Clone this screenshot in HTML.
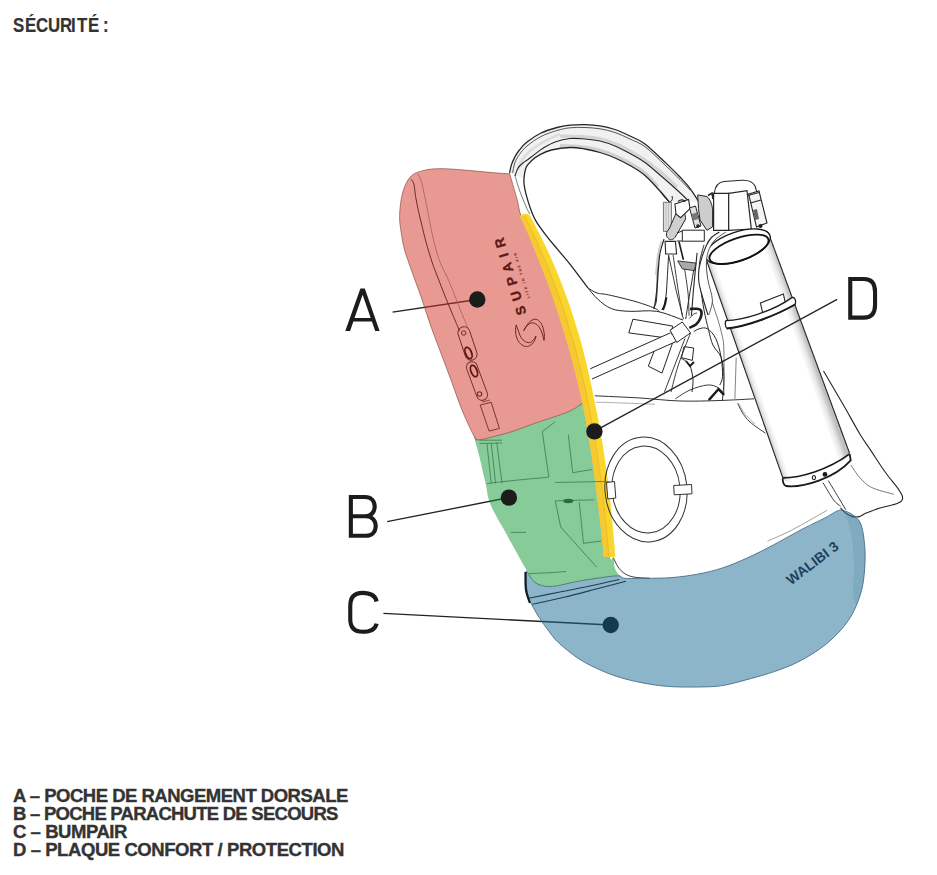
<!DOCTYPE html>
<html><head><meta charset="utf-8">
<style>
html,body{margin:0;padding:0;background:#fff;}
body{width:937px;height:875px;position:relative;overflow:hidden;font-family:"Liberation Sans",sans-serif;color:#333;}
.h{position:absolute;left:0;top:14.84px;font-weight:bold;font-size:19.8px;line-height:20px;white-space:nowrap;-webkit-text-stroke:0.2px #333;}
.h span{position:absolute;top:0;transform:scaleX(0.85);transform-origin:0 0;}
.list{position:absolute;left:13px;top:787px;font-weight:bold;font-size:18.5px;line-height:18px;white-space:nowrap;-webkit-text-stroke:0.35px #333;}
.list div{height:18px;}
svg{position:absolute;left:0;top:0;}
</style></head><body>
<div class="h"><span style="left:12.87px">S</span><span style="left:25.06px">É</span><span style="left:36.40px">C</span><span style="left:48.25px">U</span><span style="left:60.36px">R</span><span style="left:71.16px">I</span><span style="left:76.62px">T</span><span style="left:87.86px">É</span><span style="left:102.72px">:</span></div>
<svg width="937" height="875" viewBox="0 0 937 875">
<path d="M509.6,173.0 C509.9,171.7 510.5,167.6 511.4,164.9 C512.3,162.2 513.6,159.4 514.9,156.9 C516.2,154.4 517.4,152.5 519.4,150.0 C521.4,147.5 523.4,144.8 527.0,142.0 C530.6,139.2 536.0,135.4 541.0,133.0 C546.0,130.6 552.2,128.8 557.0,127.5 C561.8,126.2 565.3,125.7 570.0,125.2 C574.7,124.7 580.0,124.5 585.0,124.6 C590.0,124.7 595.0,125.0 600.0,125.8 C605.0,126.6 610.0,127.8 615.0,129.5 C620.0,131.2 625.0,133.6 630.0,136.0 C635.0,138.4 639.0,139.4 645.0,143.9 C651.0,148.4 659.9,157.4 665.7,162.9 C671.5,168.4 676.2,173.0 680.0,177.0 C683.8,181.0 685.5,182.6 688.6,186.7 C691.8,190.8 697.2,199.2 698.9,201.7 L669,201.5 C667.5,199.8 664.0,195.3 660.0,191.0 C656.0,186.7 650.0,179.8 645.0,175.5 C640.0,171.2 635.0,168.4 630.0,165.5 C625.0,162.6 620.0,160.2 615.0,158.0 C610.0,155.8 605.0,154.0 600.0,152.5 C595.0,151.0 590.0,149.8 585.0,149.0 C580.0,148.2 575.6,147.3 570.0,147.5 C564.4,147.7 556.4,148.8 551.4,150.0 C546.4,151.2 543.2,152.9 540.0,154.6 C536.8,156.3 534.3,158.2 532.0,160.3 C529.7,162.4 527.6,164.1 526.3,167.1 C525.0,170.1 524.4,176.7 524.0,178.6 Z" fill="#f1f1f1" stroke="none"/>
<path d="M560.0,136.0 C564.2,136.1 578.3,136.3 585.0,136.8 C591.7,137.3 595.0,137.7 600.0,138.8 C605.0,139.9 610.0,141.5 615.0,143.5 C620.0,145.5 625.0,148.2 630.0,151.0 C635.0,153.8 639.7,156.3 645.0,160.0 C650.3,163.7 656.7,168.5 662.0,173.0 C667.3,177.5 674.5,184.7 677.0,187.0" stroke="#d4d4d4" stroke-width="3.2" fill="none"/>
<path d="M560.0,145.5 C564.2,145.8 578.3,146.2 585.0,147.0 C591.7,147.8 595.0,148.8 600.0,150.3 C605.0,151.8 610.0,153.7 615.0,155.8 C620.0,158.0 625.0,160.3 630.0,163.2 C635.0,166.1 640.3,169.0 645.0,173.0 C649.7,177.0 655.8,184.7 658.0,187.0" stroke="#d0d0d0" stroke-width="3.2" fill="none"/>
<path d="M518.0,170.0 C518.7,168.3 520.0,163.2 522.0,160.0 C524.0,156.8 526.2,154.2 530.0,151.0 C533.8,147.8 540.0,143.8 545.0,141.0 C550.0,138.2 557.5,135.2 560.0,134.0" stroke="#dcdcdc" stroke-width="2.5" fill="none"/>
<path d="M509.6,173.0 C509.9,171.7 510.5,167.6 511.4,164.9 C512.3,162.2 513.6,159.4 514.9,156.9 C516.2,154.4 517.4,152.5 519.4,150.0 C521.4,147.5 523.4,144.8 527.0,142.0 C530.6,139.2 536.0,135.4 541.0,133.0 C546.0,130.6 552.2,128.8 557.0,127.5 C561.8,126.2 565.3,125.7 570.0,125.2 C574.7,124.7 580.0,124.5 585.0,124.6 C590.0,124.7 595.0,125.0 600.0,125.8 C605.0,126.6 610.0,127.8 615.0,129.5 C620.0,131.2 625.0,133.6 630.0,136.0 C635.0,138.4 639.0,139.4 645.0,143.9 C651.0,148.4 659.9,157.4 665.7,162.9 C671.5,168.4 676.2,173.0 680.0,177.0 C683.8,181.0 685.5,182.6 688.6,186.7 C691.8,190.8 697.2,199.2 698.9,201.7" stroke="#262626" stroke-width="1.3" fill="none"/>
<path d="M512.6,172.9 C513.0,171.2 513.8,165.7 514.9,162.6 C516.0,159.5 517.4,157.4 519.4,154.6 C521.4,151.8 523.4,149.0 527.0,146.0 C530.6,143.0 536.0,139.1 541.0,136.5 C546.0,133.9 552.2,131.9 557.0,130.5 C561.8,129.1 565.3,128.3 570.0,127.8 C574.7,127.3 580.0,127.3 585.0,127.5 C590.0,127.7 595.0,128.0 600.0,128.8 C605.0,129.6 610.0,130.8 615.0,132.5 C620.0,134.2 625.0,136.6 630.0,139.0 C635.0,141.4 639.2,142.4 645.0,146.7 C650.8,151.0 659.2,159.5 665.0,165.0 C670.8,170.5 675.8,175.3 680.0,179.5 C684.2,183.7 688.3,188.2 690.0,190.0" stroke="#444" stroke-width="0.9" fill="none"/>
<path d="M515.0,176.0 C515.5,174.7 516.7,170.2 518.0,168.0 C519.3,165.8 521.2,164.5 523.0,163.0 C524.8,161.5 526.7,160.4 528.6,159.0 C530.5,157.6 531.8,156.4 534.3,154.6 C536.8,152.8 539.9,150.1 543.4,148.0 C546.9,145.9 550.6,143.6 555.0,142.0 C559.4,140.4 565.0,139.0 570.0,138.5 C575.0,138.0 580.0,138.6 585.0,139.0 C590.0,139.4 595.0,139.8 600.0,141.0 C605.0,142.2 610.0,143.9 615.0,146.0 C620.0,148.1 625.0,150.8 630.0,153.5 C635.0,156.2 640.0,158.9 645.0,162.5 C650.0,166.1 654.6,170.4 660.0,175.0 C665.4,179.6 672.3,185.7 677.1,190.0 C681.9,194.3 686.7,199.2 688.6,201.0" stroke="#262626" stroke-width="1.1" fill="none"/>
<path d="M669.0,201.5 C667.5,199.8 664.0,195.3 660.0,191.0 C656.0,186.7 650.0,179.8 645.0,175.5 C640.0,171.2 635.0,168.4 630.0,165.5 C625.0,162.6 620.0,160.2 615.0,158.0 C610.0,155.8 605.0,154.0 600.0,152.5 C595.0,151.0 590.0,149.8 585.0,149.0 C580.0,148.2 575.6,147.3 570.0,147.5 C564.4,147.7 556.4,148.8 551.4,150.0 C546.4,151.2 543.2,152.9 540.0,154.6 C536.8,156.3 534.3,158.2 532.0,160.3 C529.7,162.4 527.6,164.1 526.3,167.1 C525.0,170.1 524.3,175.2 524.0,178.6 C523.7,182.0 524.0,184.3 524.6,187.7 C525.2,191.1 526.3,195.4 527.4,199.1 C528.5,202.8 529.6,206.4 531.0,210.0 C532.4,213.6 533.3,216.5 535.7,220.6 C538.1,224.7 541.6,229.5 545.3,234.3 C548.9,239.1 553.3,244.2 557.6,249.4 C561.9,254.7 566.3,259.4 571.3,265.8 C576.3,272.2 585.0,284.1 587.8,287.8" stroke="#262626" stroke-width="1.3" fill="none"/>
<path d="M514.9,175.1 C515.6,177.6 517.5,184.7 519.4,190.0 C521.3,195.3 524.6,203.1 526.3,207.1 C528.0,211.1 529.1,212.8 529.7,214.0" stroke="#555" stroke-width="0.8" fill="none"/>
<path d="M587.8,287.8 C589.3,288.7 593.5,291.8 597.0,293.0 C600.5,294.2 602.1,293.4 608.6,294.9 C615.1,296.3 628.5,299.5 636.0,301.7 C643.5,303.9 650.0,306.3 653.9,307.9 C657.8,309.5 658.4,310.7 659.3,311.3" stroke="#262626" stroke-width="1.0" fill="none"/>
<path d="M587.8,287.8 C589.4,289.7 593.7,295.5 597.6,299.0 C601.5,302.5 606.0,306.6 611.3,308.6 C616.6,310.7 621.7,310.9 629.2,311.3 C636.8,311.8 647.6,309.9 656.6,311.3 C665.6,312.8 678.6,318.6 683.0,320.0" stroke="#262626" stroke-width="1.0" fill="none"/>
<path d="M659.3,248.2 C659.0,251.8 658.0,261.5 657.5,270.0 C657.0,278.5 657.2,292.8 656.6,299.0 C656.0,305.2 654.4,305.8 653.9,307.2" stroke="#262626" stroke-width="1.0" fill="none"/>
<path d="M664.0,239.1 C663.3,241.4 661.0,247.8 660.0,252.9 C659.0,258.1 658.8,264.3 658.3,270.0 C657.8,275.7 657.7,281.4 657.1,287.1 C656.5,292.8 655.5,300.7 654.9,304.3 C654.3,307.9 653.9,308.1 653.7,308.9" stroke="#262626" stroke-width="1.2" fill="none"/>
<path d="M661.5,241.0 C660.9,243.3 658.9,249.3 658.0,255.0 C657.1,260.7 656.3,271.7 656.0,275.0" stroke="#cfcfcf" stroke-width="2.0" fill="none"/>
<path d="M668.6,255.1 C668.4,258.5 667.8,269.4 667.4,275.7 C667.0,282.0 666.8,288.1 666.3,292.9 C665.8,297.7 665.4,301.4 664.6,304.3 C663.8,307.2 662.2,309.1 661.7,310.0" stroke="#262626" stroke-width="1.0" fill="none"/>
<path d="M666.3,297.4 C666.1,298.5 665.6,301.9 665.0,304.0 C664.4,306.1 663.2,309.0 662.9,310.0" stroke="#1a1a1a" stroke-width="2.2" fill="none"/>
<path d="M668.6,255.1 L676.0,290.0 L683.4,319.1" stroke="#262626" stroke-width="0.9" fill="none"/>
<path d="M673.1,255.1 C673.9,260.4 676.2,277.0 677.7,287.1 C679.2,297.2 681.5,310.9 682.3,315.7" stroke="#262626" stroke-width="0.9" fill="none"/>
<path d="M678.9,241.4 L683.4,259.7" stroke="#1a1a1a" stroke-width="1.6" fill="none"/>
<path d="M684.6,268.9 C685.2,272.9 687.2,285.1 688.0,292.9 C688.8,300.7 688.9,311.9 689.1,315.7" stroke="#262626" stroke-width="0.9" fill="none"/>
<path d="M693.7,270.0 C692.8,275.7 689.3,296.1 688.0,304.3 C686.7,312.5 686.1,316.6 685.7,319.1" stroke="#262626" stroke-width="1.0" fill="none"/>
<path d="M697.1,252.9 C696.5,258.6 694.7,276.6 693.7,287.1 C692.8,297.6 691.8,310.9 691.4,315.7" stroke="#262626" stroke-width="1.1" fill="none"/>
<path d="M704.0,244.9 C703.2,248.1 700.0,257.3 699.4,264.3 C698.8,271.3 699.8,279.5 700.6,287.1 C701.4,294.7 702.7,302.9 704.0,310.0 C705.3,317.1 707.1,324.2 708.6,330.0 C710.1,335.8 710.8,340.4 712.9,345.0 C715.0,349.6 719.4,352.3 721.2,357.6 C723.0,362.9 723.7,369.7 723.9,376.8 C724.1,383.9 722.7,396.2 722.5,400.1" stroke="#262626" stroke-width="1.0" fill="none"/>
<path d="M710.9,244.9 C710.1,248.1 706.7,257.3 706.3,264.3 C705.9,271.3 707.5,280.3 708.6,287.1 C709.7,293.9 711.5,299.5 713.1,305.0 C714.7,310.5 716.5,315.0 718.0,320.0 C719.5,325.0 721.0,330.0 722.0,335.0 C723.0,340.0 723.6,339.8 723.9,350.0 C724.2,360.2 723.9,388.3 723.9,396.0" stroke="#555" stroke-width="0.8" fill="none"/>
<path d="M736.2,357.6 L734.9,398.8" stroke="#666" stroke-width="0.8" fill="none"/>
<path d="M665.1,241.4 L675.4,241.4 L676.6,254.0 L665.7,254.0 Z" stroke="#262626" stroke-width="1.1" fill="#fff"/>
<path d="M677.7,260.9 L696.0,263.1 L694.3,270.6 L682.3,268.9 Z" stroke="#262626" stroke-width="0.9" fill="#a9a9a9"/>
<path d="M690.0,309.0 C691.2,309.0 695.1,308.5 697.0,308.8 C698.9,309.1 700.6,309.5 701.2,311.0 C701.8,312.5 701.4,315.8 700.5,318.0 C699.6,320.2 697.9,322.9 696.0,324.5 C694.1,326.1 690.4,327.2 689.3,327.8" stroke="#1f1f1f" stroke-width="2.6" fill="none"/>
<path d="M689.3,318.4 C690.0,317.7 692.3,315.1 693.6,314.2 C694.9,313.3 696.4,313.2 697.0,313.0" stroke="#262626" stroke-width="1.0" fill="none"/>
<path d="M693.7,331.6 C694.8,331.1 697.7,329.0 700.0,328.5 C702.3,328.0 704.8,327.2 707.4,328.8 C710.0,330.4 713.4,333.6 715.7,338.4 C718.0,343.2 720.1,351.2 721.2,357.6 C722.3,364.0 722.7,372.2 722.5,376.8 C722.3,381.4 720.2,383.6 719.8,385.0" stroke="#262626" stroke-width="1.0" fill="none"/>
<path d="M684.1,346.6 L693.7,348.0 L692.3,360.4 L681.4,357.6 Z" stroke="#262626" stroke-width="1.0" fill="#fff"/>
<path d="M681.0,358.0 C682.2,358.9 686.5,361.3 688.2,363.1 C689.9,364.9 690.2,365.8 691.0,368.6 C691.8,371.4 692.8,376.1 693.0,380.0 C693.2,383.9 692.2,390.0 692.0,392.0" stroke="#262626" stroke-width="1.0" fill="none"/>
<path d="M686.0,361.0 L690.0,366.0 L694.0,362.0" stroke="#1f1f1f" stroke-width="2.0" fill="none"/>
<path d="M675.4,398.8 C677.8,397.3 684.7,392.3 690.0,390.0 C695.3,387.7 702.7,385.4 707.4,385.0 C712.1,384.6 715.6,386.2 718.4,387.8 C721.1,389.4 723.0,393.6 723.9,394.7" stroke="#262626" stroke-width="0.9" fill="none"/>
<path d="M708.8,400.1 L718.4,389.2 L723.9,394.7" stroke="#1a1a1a" stroke-width="2.4" fill="none"/>
<path d="M594.8,395.8 C602.3,396.2 625.8,397.1 640.0,398.0 C654.2,398.9 666.7,400.6 680.0,401.0 C693.3,401.4 707.6,400.9 720.0,400.5 C732.4,400.1 748.4,399.1 754.1,398.8" stroke="#333" stroke-width="1.0" fill="none"/>
<path d="M595.7,402.2 C600.2,402.3 613.1,402.6 623.0,403.0 C632.9,403.4 649.7,404.1 655.0,404.3" stroke="#999" stroke-width="0.8" fill="none"/>
<path d="M632.9,319.2 L672.7,326.1 L670.0,338.4 L628.8,332.9 Z" stroke="#262626" stroke-width="1.0" fill="#fff"/>
<path d="M656.5,345.0 L648.3,366.2 L662.0,373.1 L672.5,343.0 Z" stroke="#262626" stroke-width="1.0" fill="#fff"/>
<path d="M590.2,368.8 L670.0,333.0 L676.8,341.2 L592.0,379.0 Z" stroke="#fff" stroke-width="0.01" fill="#fff"/>
<path d="M590.2,368.8 L670.0,333.0" stroke="#262626" stroke-width="1.0" fill="none"/>
<path d="M592.0,379.0 L676.8,341.2" stroke="#262626" stroke-width="1.0" fill="none"/>
<path d="M670.0,330.2 L682.3,322.0 L690.5,332.9 L676.8,342.5 Z" stroke="#262626" stroke-width="1.0" fill="#fff"/>
<path d="M685.0,338.4 L664.5,391.9" stroke="#262626" stroke-width="0.9" fill="none"/>
<path d="M690.5,333.0 C688.4,338.5 681.2,356.2 678.0,366.0 C674.8,375.8 672.2,387.7 671.0,392.0" stroke="#262626" stroke-width="0.9" fill="none"/>
<path d="M823.5,371.0 C824.4,372.5 825.4,374.2 828.8,380.0 C832.2,385.8 838.8,397.0 844.0,406.0 C849.2,415.0 855.4,426.6 860.0,434.2 C864.6,441.8 867.2,445.1 871.4,451.4 C875.6,457.7 880.8,466.0 885.1,472.0 C889.4,478.0 894.2,483.4 897.1,487.4 C900.0,491.4 901.6,493.7 902.3,496.0 C903.0,498.3 902.8,499.7 901.4,501.1 C900.0,502.5 897.3,503.5 893.7,504.6 C890.1,505.8 884.6,506.6 880.0,508.0 C875.4,509.4 869.7,511.7 866.3,513.1 C862.9,514.5 861.7,516.0 859.4,516.6 C857.1,517.2 854.9,517.2 852.6,516.6 C850.3,516.0 847.7,514.5 845.7,513.1 C843.7,511.7 841.5,508.9 840.6,508.0" stroke="#262626" stroke-width="1.1" fill="none"/>
<path d="M850.9,465.1 C852.3,467.1 856.0,473.4 859.4,477.1 C862.8,480.8 865.7,484.5 871.4,487.4 C877.1,490.3 890.0,493.1 893.7,494.3" stroke="#555" stroke-width="0.8" fill="none"/>
<path d="M823.0,482.7 C824.8,485.6 830.7,496.1 833.6,500.0 C836.5,503.9 839.4,505.2 840.6,506.3" stroke="#262626" stroke-width="0.9" fill="none"/>
<path d="M828.3,480.6 C830.2,483.8 837.1,495.1 840.0,500.0 C842.9,504.9 844.8,508.1 845.7,509.7" stroke="#262626" stroke-width="0.9" fill="none"/>
<path d="M737.7,403.0 C738.4,404.5 740.0,408.8 742.0,412.0 C744.0,415.2 746.1,418.5 750.0,422.0 C753.9,425.5 762.8,431.3 765.4,433.2" stroke="#262626" stroke-width="0.9" fill="none"/>
<path d="M739.0,404.0 C740.0,405.7 742.3,410.7 745.0,414.0 C747.7,417.3 753.3,422.3 755.0,424.0" stroke="#888" stroke-width="0.7" fill="none"/>
<path d="M767.5,541.2 C771.2,539.5 782.9,534.5 790.0,531.0 C797.1,527.5 803.8,523.5 810.0,520.0 C816.2,516.5 824.2,511.9 827.0,510.3" stroke="#777" stroke-width="0.7" fill="none"/>
<path d="M613.4,557.7 C614.2,559.2 616.1,564.2 618.0,566.9 C619.9,569.6 622.2,572.0 624.9,573.7 C627.6,575.4 629.8,576.3 634.0,577.1 C638.2,577.9 647.3,578.1 650.0,578.3" stroke="#262626" stroke-width="0.9" fill="none"/>
<path d="M714.3,193.3 C715,186 718,182.3 724,181.5 L741.7,180.3 C749,180 753,182 755,186 L756.8,191.9" stroke="#262626" stroke-width="1.1" fill="none"/>
<path d="M713.6,193.3 L728.7,193.3 L728.7,230.4 L713.6,230.4 Z" fill="#fff" stroke="#262626" stroke-width="1.2"/>
<path d="M728.7,193.3 L747,190.6 L751.3,229 L728.7,230.4 Z" fill="#fff" stroke="#262626" stroke-width="1.2"/>
<path d="M748.6,194 L759,191 L767,223 L756.5,227 Z" fill="#f4f4f4" stroke="#262626" stroke-width="1.1"/>
<path d="M748,195.5 L759,192.5 M750.5,203 L761,200" stroke="#262626" stroke-width="1.2" fill="none"/>
<path d="M753,210 L757,209 L759,219 L755,220 Z" fill="#666"/>
<circle cx="760.5" cy="226" r="2" fill="#222"/>
<path d="M663.4,202.3 L671.4,202.3 L671.4,231.4 L663.4,231.4 Z" fill="#dedede" stroke="#555" stroke-width="0.8"/>
<path d="M666,203 V231 M668.5,203 V231" stroke="#bbb" stroke-width="0.8"/>
<path d="M660,191 C664,197 668,201.5 670,202 C672,201 673,199 672,196" stroke="#262626" stroke-width="1" fill="none"/>
<path d="M668,238.3 C665.5,236 666,232 669.1,229 L677.1,211 C679,208.5 683,209.5 684.5,213 C686,217 685.5,219 685.1,220 L675,237.5 C673,240 670,240.5 668,238.3 Z" fill="#cfcfcf" stroke="#262626" stroke-width="1"/>
<path d="M674.9,204 L688.6,199.4 L690,208.6 L680.6,217.7 L676,214 Z" fill="#fff" stroke="#262626" stroke-width="1.1"/>
<path d="M678,201.5 C681,199 684,199.5 685,202" stroke="#262626" stroke-width="1.4" fill="none"/>
<path d="M697.7,194.9 L706.9,196.5 C710,199 712.6,205 712.6,210.9 L712.6,226.9 L706.9,230.3 L700,220 L698.5,208.6 Z" fill="#cdcdcd" stroke="#262626" stroke-width="1"/>
<path d="M708,195.5 L712,193 L713,199" stroke="#262626" stroke-width="1.6" fill="none"/>
<path d="M689.5,208 L695.5,206 L701,226 L695,228 Z" fill="#e0e0e0" stroke="#262626" stroke-width="1"/>
<path d="M691.5,214 L697,212.5 L698.5,219 L693,220.5 Z" fill="#7a7a7a"/>
<circle cx="698" cy="226" r="1.8" fill="#222"/>
<path d="M682.3,230.2 L704.3,230.2 L704.3,241.2 L682.3,241.2 Z" fill="#fff" stroke="#262626" stroke-width="1"/>
<path d="M677,233 L682.3,231 M676.6,241 L682.3,241" stroke="#262626" stroke-width="1" fill="none"/>
<defs><linearGradient id="cg" gradientUnits="userSpaceOnUse" x1="704.7" y1="255" x2="768.4" y2="232.7"><stop offset="0" stop-color="#c4c4c4"/><stop offset="0.05" stop-color="#ececec"/><stop offset="0.11" stop-color="#fff"/><stop offset="0.86" stop-color="#fff"/><stop offset="0.94" stop-color="#e6e6e6"/><stop offset="1" stop-color="#c0c0c0"/></linearGradient></defs>
<path d="M704.7,255 L783,478.4 C790,490 840,470 849.6,453.3 L770.5,238.6 Z" fill="url(#cg)"/>
<path d="M704.7,255 L783,478.4" stroke="#262626" stroke-width="1.1" fill="none"/>
<path d="M770.5,238.6 L849.6,453.3" stroke="#262626" stroke-width="1.1" fill="none"/>
<ellipse cx="737.8" cy="246.5" rx="34" ry="14.5" transform="rotate(-19 737.8 246.5)" fill="#fff" stroke="#1a1a1a" stroke-width="1.4"/>
<ellipse cx="739" cy="249.3" rx="31" ry="11.3" transform="rotate(-19 739 249.3)" fill="none" stroke="#111" stroke-width="1.9"/>
<path d="M719.3,232.0 C717.9,233.0 713.1,235.8 711.0,238.0 C708.9,240.2 707.9,242.2 706.4,245.4 C704.9,248.6 703.1,253.4 701.9,257.4 C700.7,261.4 699.5,265.1 699.0,269.3 C698.5,273.5 698.3,277.7 699.0,282.8 C699.7,287.9 701.9,294.6 703.4,300.0 C704.9,305.4 707.2,312.5 708.0,315.0 L708.8,315 C709.4,312.5 712.5,305.9 712.4,300.0 C712.2,294.1 708.9,286.2 707.9,279.8 C706.9,273.4 706.1,267.1 706.4,261.9 C706.6,256.7 707.8,252.2 709.4,248.4 C711.0,244.6 713.2,241.7 716.0,239.0 C718.8,236.3 724.2,233.2 725.9,232.0 Z" fill="#fff" stroke="none"/>
<path d="M719.3,232.0 C717.9,233.0 713.1,235.8 711.0,238.0 C708.9,240.2 707.9,242.2 706.4,245.4 C704.9,248.6 703.1,253.4 701.9,257.4 C700.7,261.4 699.5,265.1 699.0,269.3 C698.5,273.5 698.3,277.7 699.0,282.8 C699.7,287.9 701.9,294.6 703.4,300.0 C704.9,305.4 707.2,312.5 708.0,315.0" stroke="#262626" stroke-width="1.1" fill="none"/>
<path d="M725.9,232.0 C724.2,233.2 718.8,236.3 716.0,239.0 C713.2,241.7 711.0,244.6 709.4,248.4 C707.8,252.2 706.6,256.7 706.4,261.9 C706.1,267.1 706.9,273.4 707.9,279.8 C708.9,286.2 712.2,294.1 712.4,300.0 C712.5,305.9 709.4,312.5 708.8,315.0" stroke="#444" stroke-width="0.9" fill="none"/>
<path d="M760.4,303 L783.3,293.9 L785.8,304.5 L763.2,315 Z" fill="#fff" stroke="#262626" stroke-width="1.1"/>
<path d="M726,320.6 C742,320 772,312 791.8,297.6 C794,297 795.5,299 795.6,301.5 C795.6,303 795.3,304 795,304.5 C775,316 745,327 727,328.5 C725,327 725,322 726,320.6 Z" fill="#fff" stroke="#1e1e1e" stroke-width="1.3"/>
<path d="M727,328.5 C745,327 775,316 795,304.5" stroke="#1a1a1a" stroke-width="1.9" fill="none"/>
<path d="M782.4,477.9 C800,478 828,470 849.6,453.9" stroke="#1a1a1a" stroke-width="1.7" fill="none"/>
<path d="M782.6,478.5 C782.8,482.5 783.5,485 786,486 C803,488 835,478 850.7,460.3 L849.6,453.9" stroke="#1a1a1a" stroke-width="1.8" fill="none"/>
<ellipse cx="813.9" cy="477.6" rx="1.6" ry="2.1" fill="#fff" stroke="#1a1a1a" stroke-width="1.1"/>
<circle cx="825" cy="474.4" r="2.4" fill="#1a1a1a"/>
<g stroke="#222" stroke-width="1.3" fill="none"><path d="M392.6,312.2 L477.3,299.5"/><path d="M387.1,521.7 L509,497.5"/><path d="M383.4,613.4 L610.7,625"/><path d="M837.1,299.4 L594.6,431.1"/></g>
<path d="M526.0,573.0 C525.9,576.7 526.6,589.8 527.5,595.0 C528.4,600.2 529.5,600.4 531.5,604.2 C533.5,608.0 536.3,613.1 539.2,617.6 C542.1,622.1 545.6,626.9 548.8,631.1 C552.0,635.3 553.6,638.1 558.4,642.6 C563.2,647.1 571.2,653.7 577.6,658.0 C584.0,662.3 590.4,665.5 596.8,668.5 C603.2,671.5 609.6,674.1 616.0,676.2 C622.4,678.4 628.9,680.0 635.3,681.4 C641.7,682.8 648.1,684.0 654.5,684.9 C660.9,685.8 666.1,686.4 673.7,686.8 C681.3,687.1 691.8,687.2 700.0,687.0 C708.2,686.8 714.4,686.9 723.0,685.5 C731.6,684.1 742.9,680.7 751.4,678.4 C759.9,676.1 766.7,674.3 774.3,671.6 C781.9,668.9 789.6,666.2 797.2,662.4 C804.8,658.6 813.2,653.7 820.1,648.7 C827.0,643.8 833.1,638.4 838.4,632.7 C843.7,627.0 848.3,621.3 852.1,614.4 C855.9,607.5 859.2,599.1 861.3,591.5 C863.4,583.9 864.1,576.2 864.7,568.6 C865.3,561.0 865.3,553.0 864.7,545.8 C864.1,538.6 863.0,530.2 861.3,525.2 C859.6,520.2 857.1,518.4 854.4,516.0 C851.7,513.6 847.7,511.9 845.0,511.0 C842.3,510.1 841.8,509.4 838.4,510.5 C835.0,511.6 831.4,514.5 824.9,517.9 C818.4,521.3 807.8,526.2 799.3,530.7 C790.8,535.2 782.2,540.3 773.7,544.8 C765.2,549.3 756.5,553.8 748.0,557.6 C739.5,561.5 731.0,565.1 722.5,567.9 C714.0,570.7 705.3,572.7 696.8,574.3 C688.2,575.9 679.7,576.9 671.2,577.6 C662.7,578.3 653.3,578.2 645.6,578.3 C637.9,578.4 629.6,578.7 624.9,578.3 C620.2,577.9 622.0,575.8 617.6,575.8 C613.2,575.8 605.3,577.1 598.8,578.0 C592.2,578.9 586.0,579.8 578.3,581.2 C570.6,582.6 559.2,585.8 552.7,586.4 C546.2,587.0 542.4,585.8 539.0,584.6 C535.6,583.5 534.0,581.4 532.2,579.5 C530.4,577.6 529.0,574.1 528.0,573.0 C527.0,571.9 526.1,569.3 526.0,573.0 Z" fill="rgb(27,107,147)" fill-opacity="0.5" stroke="#3d6480" stroke-width="0.8"/>
<path d="M846.0,513.0 C847.2,512.2 852.5,515.0 855.0,517.0 C857.5,519.0 859.7,520.4 861.3,525.2 C862.9,530.0 864.1,538.6 864.7,545.8 C865.3,553.0 865.3,561.0 864.7,568.6 C864.1,576.2 862.8,585.6 861.3,591.5 C859.8,597.4 857.4,604.2 856.0,604.0 C854.6,603.8 853.3,596.5 853.0,590.0 C852.7,583.5 854.2,573.3 854.0,565.0 C853.8,556.7 853.0,547.2 852.0,540.0 C851.0,532.8 849.0,526.5 848.0,522.0 C847.0,517.5 844.8,513.8 846.0,513.0 Z" fill="#2a5878" fill-opacity="0.12"/>
<path d="M528.8,598.3 C534.0,597.2 549.8,594.0 560.0,592.0 C570.2,590.0 580.1,588.1 590.0,586.0 C599.9,583.9 614.4,580.6 619.3,579.5" fill="none" stroke="#1f3f55" stroke-width="1.1"/>
<path d="M532.2,604.3 C537.7,603.1 553.7,599.7 565.0,597.0 C576.3,594.3 589.8,590.6 600.0,588.0 C610.2,585.4 621.7,582.3 626.0,581.2" fill="none" stroke="#1f3f55" stroke-width="1.1"/>
<path d="M525.5,572.0 C525.6,575.0 525.2,584.8 526.0,590.0 C526.8,595.2 529.3,600.8 530.0,603.0" fill="none" stroke="#0f1f2a" stroke-width="2.2"/>
<path d="M474.0,436.0 C473.7,433.1 475.4,439.6 478.0,439.8 C480.6,440.1 484.2,438.9 489.9,437.5 C495.6,436.1 504.8,433.9 512.3,431.5 C519.8,429.1 527.2,425.9 534.7,423.3 C542.2,420.7 550.9,418.1 557.1,415.9 C563.3,413.7 567.4,412.4 572.1,409.9 C576.8,407.4 582.2,402.8 585.5,400.8 C588.8,398.8 590.2,391.5 592.0,398.0 C593.8,404.5 594.7,426.2 596.0,440.0 C597.3,453.8 598.3,467.7 600.0,481.0 C601.7,494.3 604.3,507.3 606.0,520.0 C607.7,532.7 608.8,550.7 610.0,557.0 C611.2,563.3 612.6,556.1 613.4,557.7 C614.2,559.4 613.8,564.2 614.6,566.9 C615.4,569.6 616.3,571.8 618.0,573.7 C619.7,575.6 625.0,577.9 624.9,578.3 C624.8,578.6 622.0,575.8 617.6,575.8 C613.2,575.8 605.3,577.1 598.8,578.0 C592.2,578.9 586.0,579.8 578.3,581.2 C570.6,582.6 559.2,585.8 552.7,586.4 C546.2,587.0 542.4,585.8 539.0,584.6 C535.6,583.5 534.2,581.8 532.2,579.5 C530.2,577.2 529.0,574.4 527.0,571.0 C525.0,567.6 522.6,563.3 520.2,559.0 C517.8,554.7 515.3,550.2 512.5,545.1 C509.7,540.0 506.4,534.1 503.4,528.6 C500.3,523.1 496.6,517.1 494.2,512.2 C491.8,507.3 490.1,504.0 488.7,499.4 C487.3,494.8 486.8,488.4 486.0,484.8 C485.2,481.2 485.3,482.1 484.2,477.5 C483.1,472.9 481.3,464.3 479.6,457.4 C477.9,450.5 474.3,438.9 474.0,436.0 Z" fill="rgb(15,151,51)" fill-opacity="0.5"/>
<path d="M412.9,174.6 C415.0,173.0 417.2,172.3 420.2,171.4 C423.2,170.5 427.0,169.6 431.1,169.1 C435.2,168.6 440.2,168.6 444.8,168.7 C449.4,168.8 453.6,169.2 458.6,169.6 C463.6,170.0 469.4,170.5 475.0,171.0 C480.6,171.5 486.4,172.1 492.0,172.6 C497.6,173.1 505.6,173.6 508.5,173.8 C511.4,174.0 509.3,173.6 509.6,174.0 C509.9,174.4 509.6,173.7 510.3,176.0 C511.0,178.3 512.5,183.5 513.7,187.7 C514.9,191.9 516.3,196.3 517.5,201.0 C518.7,205.7 518.8,210.0 521.0,216.0 C523.2,222.0 528.0,230.2 531.0,237.0 C534.0,243.8 536.3,250.0 539.1,257.0 C541.9,264.0 545.0,271.8 547.7,279.0 C550.4,286.2 552.9,293.2 555.2,300.0 C557.6,306.8 559.7,313.3 561.8,320.0 C563.9,326.7 566.2,334.2 567.9,340.0 C569.6,345.8 570.8,350.0 572.2,355.0 C573.6,360.0 574.9,365.0 576.2,370.0 C577.5,375.0 578.7,380.0 579.9,385.0 C581.1,390.0 582.4,397.4 583.3,400.0 C584.2,402.6 587.4,399.2 585.5,400.8 C583.6,402.4 576.8,407.4 572.1,409.9 C567.4,412.4 563.3,413.7 557.1,415.9 C550.9,418.1 542.2,420.7 534.7,423.3 C527.2,425.9 519.8,429.1 512.3,431.5 C504.8,433.9 495.6,436.1 489.9,437.5 C484.2,438.9 480.6,440.1 478.0,439.8 C475.4,439.6 476.7,440.9 474.0,436.0 C471.3,431.1 465.6,418.8 462.0,410.1 C458.4,401.4 455.8,392.9 452.4,383.7 C449.0,374.5 445.2,364.5 441.6,354.9 C438.0,345.3 434.2,335.7 430.8,326.1 C427.4,316.5 424.4,306.4 421.2,297.2 C418.0,288.0 414.4,278.8 411.6,270.8 C408.8,262.8 406.2,256.0 404.4,249.2 C402.6,242.4 401.6,235.2 400.8,230.0 C400.0,224.8 399.7,222.1 399.6,218.0 C399.5,213.9 399.8,210.0 400.3,205.7 C400.8,201.4 401.6,196.1 402.8,192.0 C404.0,187.9 405.7,183.9 407.4,181.0 C409.1,178.1 410.8,176.2 412.9,174.6 Z" fill="rgb(209,53,37)" fill-opacity="0.5" stroke="#7a3a35" stroke-width="0.6"/>
<path d="M520.1,216.0 C521.7,219.5 526.6,230.2 529.5,237.0 C532.4,243.8 534.8,250.0 537.6,257.0 C540.4,264.0 543.5,271.8 546.2,279.0 C548.9,286.2 551.4,293.2 553.7,300.0 C556.1,306.8 558.2,313.3 560.3,320.0 C562.4,326.7 564.7,334.2 566.4,340.0 C568.1,345.8 569.3,350.0 570.7,355.0 C572.1,360.0 573.4,365.0 574.7,370.0 C576.0,375.0 577.2,380.0 578.4,385.0 C579.6,390.0 580.6,394.2 581.8,400.0 C583.0,405.8 584.5,413.3 585.7,420.0 C586.9,426.7 588.0,433.3 589.1,440.0 C590.2,446.7 591.2,453.3 592.2,460.0 C593.2,466.7 594.1,473.3 595.0,480.0 C595.9,486.7 596.8,493.3 597.6,500.0 C598.4,506.7 599.2,513.3 600.0,520.0 C600.8,526.7 601.6,533.8 602.2,540.0 C602.9,546.2 603.6,554.2 603.9,557.0 L615.3,557 C615.1,554.2 614.4,546.2 613.9,540.0 C613.4,533.8 612.7,526.7 612.1,520.0 C611.5,513.3 610.8,506.7 610.1,500.0 C609.4,493.3 608.6,486.7 607.8,480.0 C606.9,473.3 606.0,466.7 605.0,460.0 C604.0,453.3 603.0,446.7 601.9,440.0 C600.8,433.3 599.6,426.7 598.3,420.0 C597.0,413.3 595.5,405.8 594.3,400.0 C593.1,394.2 592.4,390.0 591.3,385.0 C590.2,380.0 589.1,375.0 587.9,370.0 C586.7,365.0 585.5,360.0 584.3,355.0 C583.0,350.0 582.1,345.8 580.4,340.0 C578.7,334.2 576.4,326.7 574.3,320.0 C572.2,313.3 570.1,306.8 567.7,300.0 C565.3,293.2 562.6,286.2 559.8,279.0 C556.9,271.8 553.7,264.0 550.6,257.0 C547.5,250.0 544.4,243.8 541.0,237.0 C537.6,230.2 531.9,219.5 530.1,216.0 C528,213 523,213 520.1,216 Z" fill="#fad52c"/>
<path d="M520.1,216.0 C521.7,219.5 526.6,230.2 529.5,237.0 C532.4,243.8 534.8,250.0 537.6,257.0 C540.4,264.0 543.5,271.8 546.2,279.0 C548.9,286.2 551.4,293.2 553.7,300.0 C556.1,306.8 558.2,313.3 560.3,320.0 C562.4,326.7 564.7,334.2 566.4,340.0 C568.1,345.8 569.3,350.0 570.7,355.0 C572.1,360.0 573.4,365.0 574.7,370.0 C576.0,375.0 577.2,380.0 578.4,385.0 C579.6,390.0 580.6,394.2 581.8,400.0 C583.0,405.8 584.5,413.3 585.7,420.0 C586.9,426.7 588.0,433.3 589.1,440.0 C590.2,446.7 591.2,453.3 592.2,460.0 C593.2,466.7 594.1,473.3 595.0,480.0 C595.9,486.7 596.8,493.3 597.6,500.0 C598.4,506.7 599.2,513.3 600.0,520.0 C600.8,526.7 601.6,533.8 602.2,540.0 C602.9,546.2 603.6,554.2 603.9,557.0 L609.1,557.0 C608.8,554.2 608.1,546.2 607.5,540.0 C607.0,533.8 606.2,526.7 605.5,520.0 C604.8,513.3 604.1,506.7 603.4,500.0 C602.6,493.3 601.8,486.7 600.9,480.0 C600.0,473.3 599.1,466.7 598.1,460.0 C597.1,453.3 596.1,446.7 595.0,440.0 C593.9,433.3 592.7,426.7 591.5,420.0 C590.3,413.3 588.7,405.8 587.5,400.0 C586.4,394.2 585.5,390.0 584.3,385.0 C583.2,380.0 582.0,375.0 580.8,370.0 C579.6,365.0 578.3,360.0 577.0,355.0 C575.7,350.0 574.6,345.8 572.9,340.0 C571.2,334.2 568.9,326.7 566.8,320.0 C564.7,313.3 562.6,306.8 560.2,300.0 C557.8,293.2 555.3,286.2 552.5,279.0 C549.7,271.8 546.6,264.0 543.6,257.0 C540.6,250.0 537.9,243.8 534.8,237.0 C531.6,230.2 526.3,219.5 524.6,216.0 Z" fill="#f6c932"/>
<path d="M524.6,216.0 C526.3,219.5 531.6,230.2 534.8,237.0 C537.9,243.8 540.6,250.0 543.6,257.0 C546.6,264.0 549.7,271.8 552.5,279.0 C555.3,286.2 557.8,293.2 560.2,300.0 C562.6,306.8 564.7,313.3 566.8,320.0 C568.9,326.7 571.2,334.2 572.9,340.0 C574.6,345.8 575.7,350.0 577.0,355.0 C578.3,360.0 579.6,365.0 580.8,370.0 C582.0,375.0 583.2,380.0 584.3,385.0 C585.5,390.0 586.4,394.2 587.5,400.0 C588.7,405.8 590.3,413.3 591.5,420.0 C592.7,426.7 593.9,433.3 595.0,440.0 C596.1,446.7 597.1,453.3 598.1,460.0 C599.1,466.7 600.0,473.3 600.9,480.0 C601.8,486.7 602.6,493.3 603.4,500.0 C604.1,506.7 604.8,513.3 605.5,520.0 C606.2,526.7 607.0,533.8 607.5,540.0 C608.1,546.2 608.8,554.2 609.1,557.0" fill="none" stroke="#e2b52a" stroke-width="0.7"/>
<ellipse cx="646" cy="489.5" rx="41" ry="52.5" transform="rotate(-6 646 489.5)" fill="none" stroke="#333" stroke-width="1"/>
<ellipse cx="646" cy="489.5" rx="34" ry="43.5" transform="rotate(-6 646 489.5)" fill="none" stroke="#333" stroke-width="1"/>
<path d="M606.5,482.5 L614.5,481.5 L615.8,498 L607.8,499 Z" fill="#fff" stroke="#333" stroke-width="1"/>
<path d="M673.7,485.5 L691.5,484.5 L692,493.8 L674.2,494.8 Z" fill="#fff" stroke="#333" stroke-width="1"/>
<path d="M411.0,179.2 C411.5,180.0 413.0,180.9 413.8,183.8 C414.6,186.7 414.9,192.2 415.6,196.6 C416.4,201.0 417.2,205.4 418.3,210.3 C419.4,215.2 420.7,220.5 422.0,225.8 C423.3,231.1 424.3,236.0 426.0,242.0 C427.7,248.0 430.0,256.0 432.0,262.0 C434.0,268.0 435.8,272.3 438.0,278.0 C440.2,283.7 442.6,290.0 445.0,296.0 C447.4,302.0 450.0,308.2 452.4,314.0 C454.8,319.8 458.4,328.1 459.6,330.9" stroke="#6e2a27" stroke-width="1" fill="none"/>
<path d="M417.4,173.7 C418.0,174.8 419.9,177.0 421.0,180.1 C422.1,183.2 422.9,187.7 423.8,192.0 C424.7,196.3 425.5,200.4 426.6,205.7 C427.7,211.0 429.0,217.9 430.2,224.0 C431.4,230.1 432.4,235.7 434.0,242.0 C435.6,248.3 437.7,256.0 440.0,262.0 C442.3,268.0 445.1,272.3 447.6,278.0 C450.1,283.7 452.6,290.0 455.0,296.0 C457.4,302.0 459.8,308.7 462.0,314.0 C464.2,319.3 467.0,325.7 468.0,328.0" stroke="#a05650" stroke-width="0.7" fill="none"/>
<rect x="-6" y="-17.4" width="12" height="34.8" rx="6" transform="translate(467.5,343.5) rotate(-18.4)" fill="none" stroke="#6e2a27" stroke-width="0.9"/>
<rect x="-5.5" y="-20.2" width="11" height="40.4" rx="5.5" transform="translate(477,381) rotate(-20.2)" fill="none" stroke="#6e2a27" stroke-width="0.9"/>
<circle cx="463.7" cy="333" r="2.2" fill="none" stroke="#6e2a27" stroke-width="1"/>
<circle cx="479.5" cy="394" r="2.2" fill="none" stroke="#6e2a27" stroke-width="1.1"/>
<ellipse cx="0" cy="0" rx="3" ry="6" transform="translate(468.5,353) rotate(-22)" fill="none" stroke="#5a1714" stroke-width="1.8"/>
<ellipse cx="0" cy="0" rx="3" ry="6" transform="translate(474,371) rotate(-22)" fill="none" stroke="#5a1714" stroke-width="1.8"/>
<path d="M480.2,405 L491.2,402.3 L499.4,428.4 L489.1,431.1 Z" fill="none" stroke="#6e2a27" stroke-width="0.9"/>
<path d="M482,402 L490,400" stroke="#6e2a27" stroke-width="0.7"/>
<text x="0" y="0" transform="translate(526.5,313.5) rotate(-107)" font-family="Liberation Sans" font-weight="bold" font-size="13.5" letter-spacing="6" fill="#5a1a17" stroke="#5a1a17" stroke-width="0.35">SUPAIR</text>
<text x="0" y="0" transform="translate(530,298) rotate(-107)" font-family="Liberation Sans" font-weight="bold" font-size="3.8" letter-spacing="1.3" fill="#6b2520">LIFE IN THE AIR</text>
<path d="M516.2,324.9 C514.5,332 516,340 521,344.2 C524,346.8 527,347 529.5,345.8 C533,344 535.5,340 536,336 C534,339.5 531.5,342.6 529.5,342.6 C526,343 522,340 520,335.5 C518.5,332 517.5,328 516.2,324.9 Z M523.7,330.8 C526,326 529,321 533.8,319.3 C537,318.5 540.5,321 542.4,326 C544,330 545,336 544,340.4 C543,336 542,331 539.2,327.1 C537,324 534,322.5 531.7,322.8 C528.5,323.5 525.5,327 523.7,330.8 Z" stroke="#5e1c19" stroke-width="0.9" fill="none"/>
<path d="M479.3,440.2 L502.1,440.2 M479.3,443.5 L502.1,443" stroke="#3c7a50" stroke-width="0.8" fill="none"/>
<path d="M486.9,443.4 L491.3,483.6 M491.3,443.4 L495.6,483.6 M496.7,442.3 L502.1,483.6" stroke="#3c7a50" stroke-width="0.8" fill="none"/>
<path d="M486.9,483.6 C505,481 530,479 548.8,477.1 L542.3,431.5 L555.3,421.7" stroke="#3c7a50" stroke-width="0.8" fill="none"/>
<path d="M568.3,434.7 L572.7,472.7 L592.2,469.5" stroke="#3c7a50" stroke-width="0.8" fill="none"/>
<path d="M555.3,482.5 L609.6,481.4" stroke="#3c7a50" stroke-width="0.8" fill="none"/>
<path d="M555.3,500.9 L594.4,499.8 M555.3,500.9 L560.7,527 L596.6,567.1 M579.2,502 L583.5,543.3 L600.9,541.1" stroke="#3c7a50" stroke-width="0.8" fill="none"/>
<path d="M510.8,532.4 L526,532.4" stroke="#3c7a50" stroke-width="0.8" fill="none"/>
<path d="M529.3,573.6 C545,573 555,572.5 566.2,571.5" stroke="#3c7a50" stroke-width="0.8" fill="none"/>
<ellipse cx="568.3" cy="501" rx="5" ry="2.2" fill="#2e6b42"/>
<text x="0" y="0" transform="translate(791,585.5) rotate(-37.5)" font-family="Liberation Sans" font-weight="bold" font-size="14" letter-spacing="0.1" fill="#1d4260">WALIBI 3</text>
<path fill="#1c1c1c" fill-rule="evenodd" d="M345.3,331 L360.4,288.6 H364.8 L379.6,331 H375.2 L371.9,321.6 H353.35 L350.1,331 Z M362.6,294.8 L370.7,318.1 H354.55 Z"/>
<g fill="none" stroke="#1c1c1c" stroke-width="4.1">
<path d="M350.85,516.3 V497 H365 C371,497 374.7,501 374.7,506.6 C374.7,512 371,516.3 365,516.3 Z M350.85,516.3 H366 C372,516.3 375.7,520.5 375.7,526 C375.7,531.6 372,535.8 366,535.8 H350.85 Z"/>
<path d="M376.6,601.5 C375.5,596 371,592.9 362.5,592.9 C354,592.9 350.25,598 350.25,606 V619 C350.25,627 354,631.8 362.5,631.8 C371,631.8 375.5,629 376.6,623.6"/>
<path d="M850.25,279 H864 C871.5,279 875.05,284 875.05,292 V305 C875.05,313 871.5,317.6 864,317.6 H850.25 Z"/>
</g>
<circle cx="477.3" cy="299.5" r="8.2" fill="#1c1c1c"/><circle cx="508.9" cy="497.6" r="8.2" fill="#1c1c1c"/><circle cx="610.7" cy="625" r="8.2" fill="#143a50"/><circle cx="594.4" cy="431.4" r="8.2" fill="#1c1c1c"/>
</svg>
<div class="list"><div style="letter-spacing:-0.5px">A – POCHE DE RANGEMENT DORSALE</div><div style="letter-spacing:-0.75px">B – POCHE PARACHUTE DE SECOURS</div><div style="letter-spacing:-0.45px">C – BUMPAIR</div><div style="letter-spacing:-0.43px">D – PLAQUE CONFORT / PROTECTION</div></div>
</body></html>
